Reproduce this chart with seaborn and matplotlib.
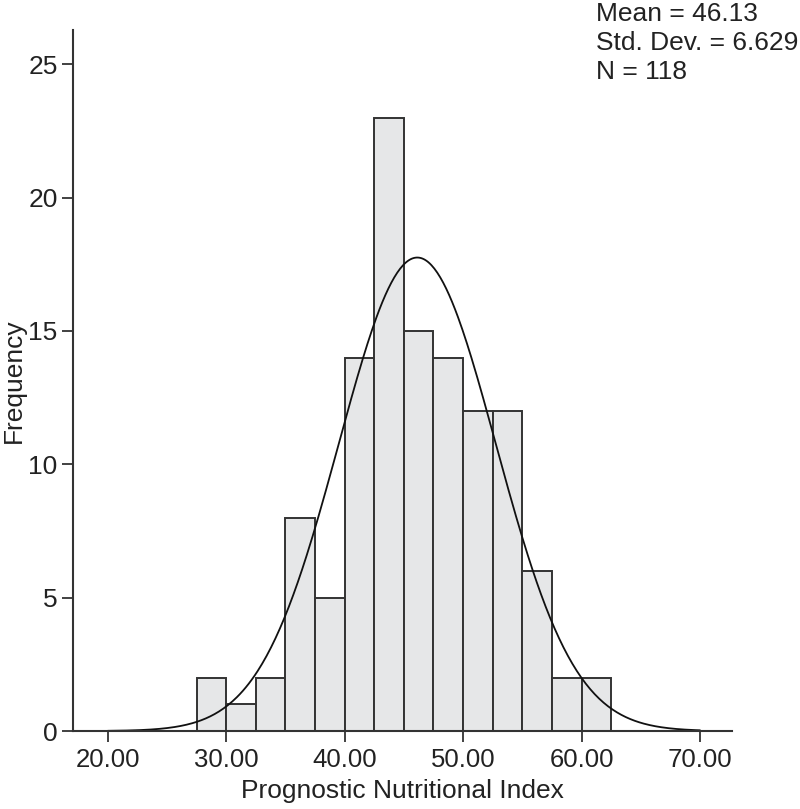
import numpy as np
import pandas as pd
import matplotlib
matplotlib.use("Agg")
import matplotlib.pyplot as plt
import seaborn as sns

# Data
bin_edges = [27.5, 30.0, 32.5, 35.0, 37.5, 40.0, 42.5, 45.0, 47.5, 50.0, 52.5, 55.0, 57.5, 60.0, 62.5]
counts = [2, 1, 2, 8, 5, 14, 23, 15, 14, 12, 12, 6, 2, 2]
mean_val = 46.13
std_val = 6.629
n_val = 118
x_ticks = [20, 30, 40, 50, 60, 70]
x_tick_labels = ["20.00", "30.00", "40.00", "50.00", "60.00", "70.00"]
y_ticks = [0, 5, 10, 15, 20, 25]

sns.set_style("ticks")
plt.rcParams['font.family'] = ['Liberation Sans', 'DejaVu Sans']

centers = [(bin_edges[i] + bin_edges[i + 1]) / 2 for i in range(len(counts))]
df = pd.DataFrame({"value": centers, "count": counts})

fig = plt.figure(figsize=(8, 8.09), dpi=100)
ax = fig.add_axes([0.091, 0.0964, 0.824, 0.867])

sns.histplot(data=df, x="value", weights="count", bins=bin_edges, ax=ax,
             color="#e6e7e8", edgecolor="#333333", linewidth=1.4, alpha=1.0)

bw = bin_edges[1] - bin_edges[0]
xs = np.linspace(20, 70, 400)
ys = n_val * bw / (std_val * np.sqrt(2 * np.pi)) * np.exp(-0.5 * ((xs - mean_val) / std_val) ** 2)
sns.lineplot(x=xs, y=ys, ax=ax, color="#111111", linewidth=1.3)

ax.set_xlim(17.05, 72.7)
ax.set_ylim(0, 26.3)
ax.set_xticks(x_ticks)
ax.set_xticklabels(x_tick_labels)
ax.set_yticks(y_ticks)
ax.tick_params(axis="x", labelsize=18.5, color="#333333", width=1.3, length=8,
               labelcolor="#222222", pad=4)
ax.tick_params(axis="y", labelsize=19, color="#333333", width=1.3, length=8,
               labelcolor="#222222", pad=3)
for s in ["top", "right"]:
    ax.spines[s].set_visible(False)
for s in ["left", "bottom"]:
    ax.spines[s].set_color("#333333")
    ax.spines[s].set_linewidth(1.5)

ax.set_xlabel("Prognostic Nutritional Index", fontsize=19, color="#222222", labelpad=5)
ax.set_ylabel("Frequency", fontsize=19, color="#222222")
ax.yaxis.set_label_coords(-0.071, 0.5)

fig.text(0.745, 0.997, "Mean = 46.13\nStd. Dev. = 6.629\nN = 118",
         fontsize=19, color="#222222", ha="left", va="top", linespacing=1.25)

fig.savefig("out.png", dpi=100)
